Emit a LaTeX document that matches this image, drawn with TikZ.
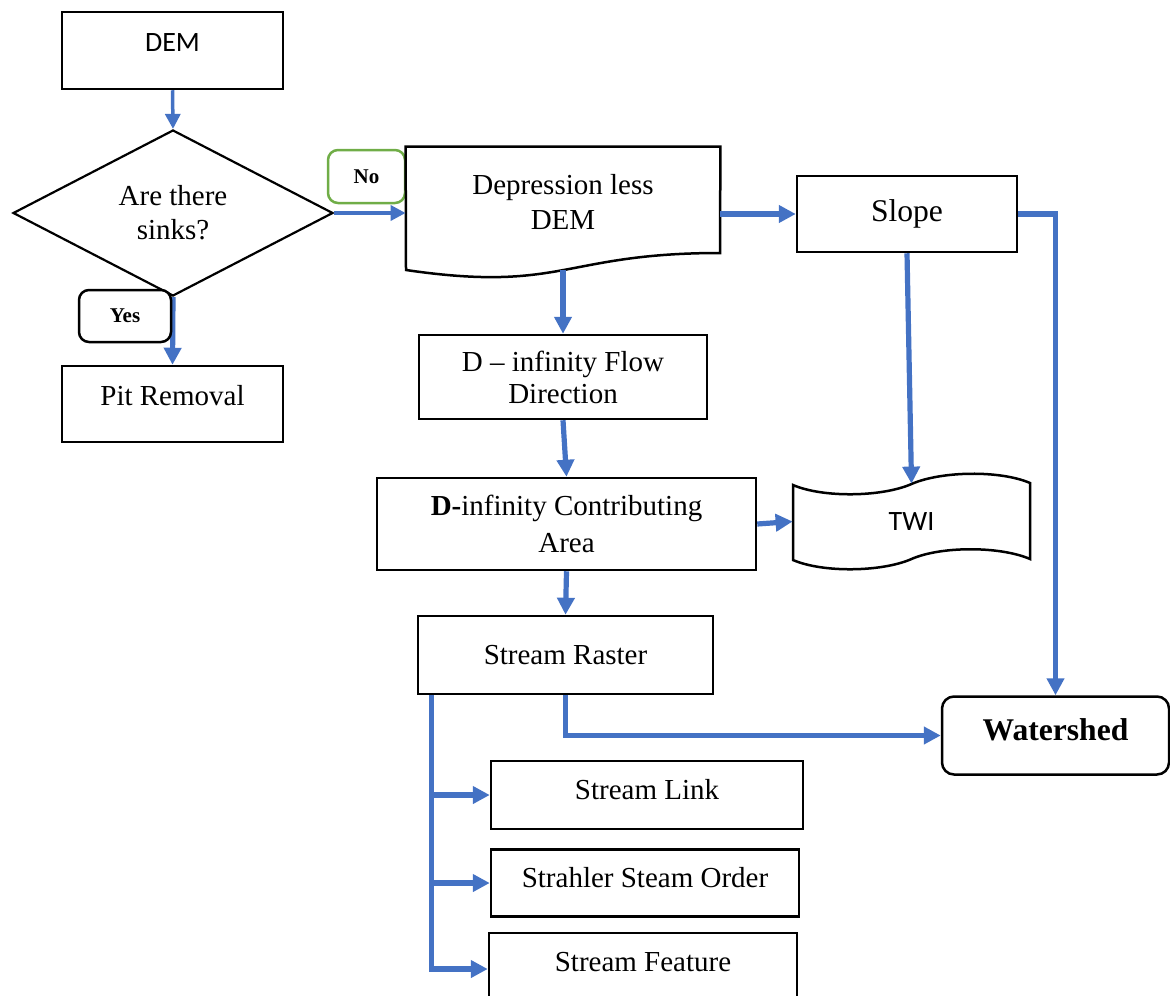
\documentclass[tikz,border=0pt]{standalone}
\usepackage{fontspec}
\setmainfont{Liberation Serif}
\newfontfamily\calfont{Carlito}
\usetikzlibrary{arrows.meta,shapes.geometric,calc}
\definecolor{flowblue}{HTML}{4472C4}
\definecolor{nogreen}{HTML}{70AD47}
\begin{document}
\begin{tikzpicture}[x=0.5pt,y=-0.5pt,
  box/.style={draw=black, line width=1.25pt, rectangle, inner sep=0pt, align=center,
    font=\fontsize{14.5}{17.5}\selectfont},
  ghost/.style={draw=none, rectangle, inner sep=0pt, align=center,
    font=\fontsize{14.5}{17.5}\selectfont},
  tag/.style={draw=black, line width=1.25pt, rounded corners=5pt, inner sep=0pt, fill=white,
    font=\bfseries\fontsize{10.5}{12}\selectfont},
  lift/.style={text depth=#1},
  thinflow/.style={draw=flowblue, line width=1.75pt, -{Triangle[length=7.5pt,width=7.5pt]}},
  thickflow/.style={draw=flowblue, line width=2.6pt, -{Triangle[length=8.5pt,width=8.5pt]}}
]
\useasboundingbox (0,0) rectangle (1170,995);

% nodes
\node[box, minimum width=110.5pt, minimum height=38.5pt, font=\calfont\fontsize{14}{16}\selectfont, lift=7.5pt] (dem) at (172.5,50.5) {DEM};
\node[draw=black, line width=1.1pt, diamond, aspect=2, inner sep=0pt, minimum width=160pt, minimum height=83pt, align=center,
  font=\fontsize{14.5}{17}\selectfont] (dia) at (173,213) {Are there\\sinks?};
\node[tag, draw=nogreen, minimum width=38.5pt, minimum height=26.5pt] (no) at (366.5,176.5) {No};
\node[box, minimum width=110.5pt, minimum height=38pt, lift=9pt] (pit) at (172.5,404) {Pit Removal};

\node[ghost, minimum width=157pt, minimum height=55pt] (dep) at (563,202) {Depression less\\DEM};
\draw[line width=1.25pt] (dep.north west) -- (dep.north east) -- (720,253)
  .. controls (563,253) and (563,293) .. (406,270) -- cycle;
\coordinate (depb) at (563,270);

\node[box, minimum width=110pt, minimum height=38pt, font=\fontsize{15.8}{18}\selectfont] (slope) at (907,214) {Slope};
\node[box, minimum width=144pt, minimum height=42pt, font=\fontsize{14.5}{16}\selectfont] (flow) at (563,377) {D -- infinity Flow\\Direction};
\node[box, minimum width=189.5pt, minimum height=46pt, font=\fontsize{14.5}{18.5}\selectfont] (contrib) at (566.5,524) {\textbf{D-}infinity Contributing\\Area};

\node[ghost, minimum width=118.5pt, minimum height=37.5pt, font=\calfont\fontsize{14}{16}\selectfont] (twi) at (911.5,521.5) {TWI};
\draw[line width=1.25pt] (793,485)
  .. controls (823,498) and (882,497) .. (911.5,484)
  .. controls (941,471) and (1000,470) .. (1030,483)
  -- (1030,559)
  .. controls (1000,546) and (941,546) .. (911.5,559)
  .. controls (882,572) and (823,573) .. (793,560) -- cycle;

\node[box, minimum width=147.5pt, minimum height=39pt] (raster) at (565.5,655) {Stream Raster};
\node[box, rounded corners=6pt, minimum width=113.5pt, minimum height=39pt, font=\bfseries\fontsize{15.8}{18}\selectfont, lift=5.5pt] (water) at (1055.5,735.5) {Watershed};
\node[box, minimum width=156pt, minimum height=34pt, lift=5.5pt] (link) at (647,795) {Stream Link};
\node[box, minimum width=154pt, minimum height=33.5pt, lift=5.5pt] (strahler) at (645,883) {Strahler Steam Order};
\node[box, minimum width=154pt, minimum height=36pt, lift=7.5pt] (feature) at (643,969) {Stream Feature};

% connectors
\draw[thinflow] (dem.south) -- (dia.north);
\draw[thinflow] (dia.east) -- (dia.east -| dep.west);
\draw[thickflow] (dia.south) -- (pit.north);
\draw[thickflow] (slope.west -| dep.east) -- (slope.west);
\draw[thickflow] (slope.east) -- (slope.east -| water.north) -- (water.north);
\draw[thickflow] (slope.south) -- (twi.north);
\draw[thickflow] (depb) -- (flow.north);
\draw[thickflow] (flow.south) -- (contrib.north);
\draw[thickflow] (contrib.east) -- (twi.west);
\draw[thickflow] (contrib.south) -- (raster.north);
\draw[thickflow] (raster.south) |- (water.west);
\coordinate (br0) at ($(raster.south west)+(15,0)$);
\draw[thickflow] (br0) |- (feature.west);
\draw[thickflow] (link.west -| br0) -- (link.west);
\draw[thickflow] (strahler.west -| br0) -- (strahler.west);

% Yes label on top of the connector
\node[tag, minimum width=46pt, minimum height=26pt] (yes) at (125,316) {Yes};
\end{tikzpicture}
\end{document}
